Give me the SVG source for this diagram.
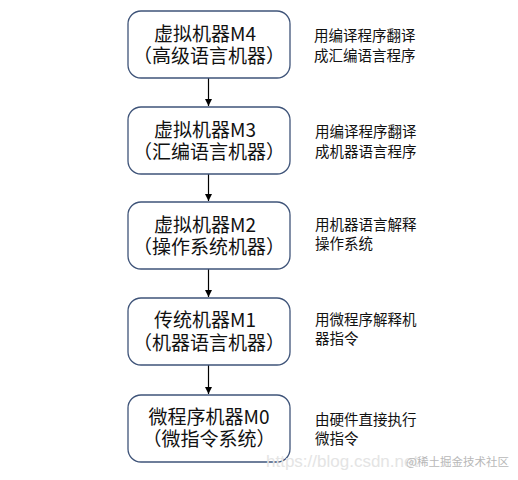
<svg xmlns="http://www.w3.org/2000/svg" width="518" height="480" viewBox="0 0 518 480">
<defs>
<marker id="ah" viewBox="0 0 10 10" refX="10" refY="5" markerWidth="7" markerHeight="7" orient="auto" markerUnits="userSpaceOnUse">
<path d="M0,0 L10,5 L0,10 z" fill="#000"/>
</marker>
<style>
.box{fill:#fff;stroke:#3f5479;stroke-width:1.3}
.t{font-family:"Noto Sans CJK SC","Noto Sans",sans-serif;font-size:19px;fill:#111;text-anchor:middle}
.a{font-family:"Noto Sans CJK SC","Noto Sans",sans-serif;font-size:14.5px;fill:#111}
.c{stroke:#000;stroke-width:1.2;fill:none;marker-end:url(#ah)}
.wm{font-family:"Liberation Sans","Noto Sans",sans-serif;font-size:17px;fill:#e4e4e4}
.wm2{font-family:"Noto Sans CJK SC",sans-serif;font-size:11.5px;fill:#b8b8b8}
</style>
</defs>
<rect width="518" height="480" fill="#fff"/>
<g id="connectors">
<line class="c" x1="208.5" y1="78" x2="208.5" y2="106"/>
<line class="c" x1="208.5" y1="174" x2="208.5" y2="201"/>
<line class="c" x1="208.5" y1="269" x2="208.5" y2="297"/>
<line class="c" x1="208.5" y1="365" x2="208.5" y2="394"/>
</g>
<g id="m4">
<rect class="box" x="128" y="11" width="162" height="67" rx="13"/>
<text class="t"><tspan x="205" y="41">虚拟机器M4</tspan><tspan x="209" y="63">（高级语言机器）</tspan></text>
</g>
<g id="m3">
<rect class="box" x="128" y="107" width="162" height="67" rx="13"/>
<text class="t"><tspan x="205" y="137">虚拟机器M3</tspan><tspan x="209" y="159">（汇编语言机器）</tspan></text>
</g>
<g id="m2">
<rect class="box" x="128" y="202" width="162" height="67" rx="13"/>
<text class="t"><tspan x="205" y="232">虚拟机器M2</tspan><tspan x="209" y="254">（操作系统机器）</tspan></text>
</g>
<g id="m1">
<rect class="box" x="128" y="298" width="162" height="67" rx="13"/>
<text class="t"><tspan x="205" y="327">传统机器M1</tspan><tspan x="209" y="350">（机器语言机器）</tspan></text>
</g>
<g id="m0">
<rect class="box" x="128" y="395" width="162" height="67" rx="13"/>
<text class="t"><tspan x="209" y="424">微程序机器M0</tspan><tspan x="209" y="446">（微指令系统）</tspan></text>
</g>
<g id="notes">
<text class="a"><tspan x="314" y="41">用编译程序翻译</tspan><tspan x="314" y="61">成汇编语言程序</tspan></text>
<text class="a"><tspan x="315" y="137">用编译程序翻译</tspan><tspan x="315" y="157">成机器语言程序</tspan></text>
<text class="a"><tspan x="315" y="230">用机器语言解释</tspan><tspan x="315" y="249">操作系统</tspan></text>
<text class="a"><tspan x="315" y="325">用微程序解释机</tspan><tspan x="315" y="344">器指令</tspan></text>
<text class="a"><tspan x="315" y="425">由硬件直接执行</tspan><tspan x="315" y="444">微指令</tspan></text>
</g>
<g id="watermark">
<text class="wm" x="266" y="467">https://blog.csdn.net</text>
<text class="wm2" x="406" y="466">@稀土掘金技术社区</text>
</g>
</svg>
